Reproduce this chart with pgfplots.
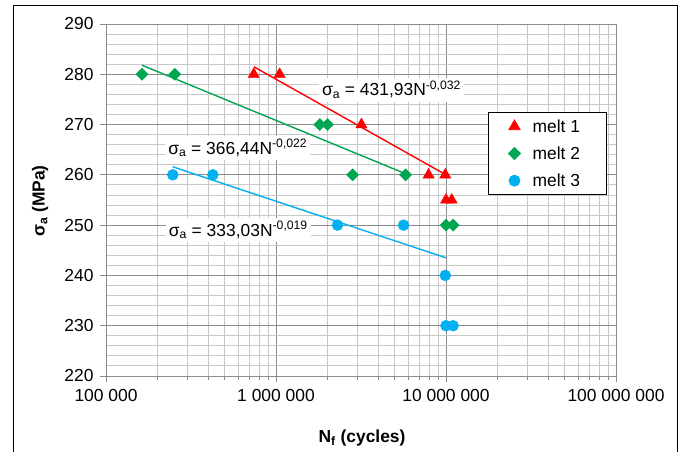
\documentclass[border=0pt]{standalone}
\usepackage{fontspec}
\setmainfont{Liberation Sans}
\usepackage{pgfplots}
\pgfplotsset{compat=1.18}
\definecolor{mred}{RGB}{255,0,0}
\definecolor{mgreen}{RGB}{0,166,81}
\definecolor{mblue}{RGB}{0,176,240}
\definecolor{gridmaj}{RGB}{140,140,140}
\definecolor{gridmin}{RGB}{200,200,200}

\begin{document}
\begin{tikzpicture}[x=1bp,y=1bp]
\useasboundingbox (0,0) rectangle (686,452);
\draw[black, line width=1bp] (13,-5) rectangle (677,446);
\begin{axis}[
  at={(106bp,76bp)}, anchor=south west,
  scale only axis, width=510bp, height=352bp,
  xmode=log, xmin=1e5, xmax=1e8,
  ymin=220, ymax=290, ytick={220,230,...,290},
  minor y tick num=4,
  xtick={1e5,1e6,1e7,1e8},
  xticklabels={100 000,1 000 000,10 000 000,100 000 000},
  grid=both,
  major grid style={gridmaj, line width=0.9bp},
  minor grid style={gridmin, line width=0.9bp},
  axis line style={gridmaj, line width=0.9bp},
  tick style={gridmaj, line width=0.9bp},
  minor y tick style={draw=none},
  major tick length=6bp, minor tick length=4bp,
  tick align=outside, tick pos=left,
  font=\fontsize{17.5}{20}\selectfont,
  /pgf/number format/assume math mode=true,
  yticklabel style={xshift=-3bp},
  xticklabel style={yshift=-4bp},
  xlabel={\textbf{N\textsubscript{f} (cycles)}},
  ylabel={\textbf{σ\textsubscript{a} (MPa)}},
  xlabel style={at={(axis description cs:0.502,-0.175)}, anchor=center},
  ylabel style={at={(axis description cs:-0.129,0.497)}, anchor=center},
  legend style={at={(axis description cs:0.749,0.75)}, anchor=north west,
    draw=black, line width=0.8bp, fill=white, row sep=9bp,
    inner xsep=20bp, inner ysep=5bp,
    nodes={inner xsep=6bp},
    /tikz/every odd column/.append style={column sep=6bp},
    font=\fontsize{17.5}{20}\selectfont},
  legend cell align=left,
]
% trend lines
\addplot[mred, line width=1.4bp, forget plot] coordinates {(7.4e5,281.5) (1.0e7,260.0)};
\addplot[mgreen, line width=1.4bp, forget plot] coordinates {(1.63e5,281.8) (5.8e6,260.2)};
\addplot[mblue, line width=1.4bp, forget plot] coordinates {(2.47e5,261.6) (1.0e7,243.5)};
% data
\addplot[only marks, mark=triangle*, mark size=6.5bp, color=mred] coordinates {
  (7.4e5,280) (1.05e6,280) (3.18e6,270) (7.9e6,260) (9.9e6,260) (1.0e7,255) (1.08e7,255)};
\addlegendentry{melt 1}
\addplot[only marks, mark=square*, mark options={rotate=45}, mark size=4.3bp, color=mgreen] coordinates {
  (1.63e5,280) (2.54e5,280) (1.81e6,270) (2.01e6,270) (2.82e6,260) (5.78e6,260) (1.0e7,250) (1.1e7,250)};
\addlegendentry{melt 2}
\addplot[only marks, mark=*, mark size=5.5bp, color=mblue] coordinates {
  (2.47e5,260) (4.25e5,260) (2.3e6,250) (5.63e6,250) (9.9e6,240) (1.0e7,230) (1.1e7,230)};
\addlegendentry{melt 3}
% equations
\node[fill=white, inner sep=3bp] at (axis cs:4.78e6,276.9) {σ\textsubscript{a} = 431,93N\textsuperscript{-0,032}};
\node[fill=white, inner sep=3bp] at (axis cs:5.96e5,265.3) {σ\textsubscript{a} = 366,44N\textsuperscript{-0,022}};
\node[fill=white, inner sep=3bp] at (axis cs:6.0e5,249.0) {σ\textsubscript{a} = 333,03N\textsuperscript{-0,019}};
\end{axis}
\end{tikzpicture}
\end{document}
